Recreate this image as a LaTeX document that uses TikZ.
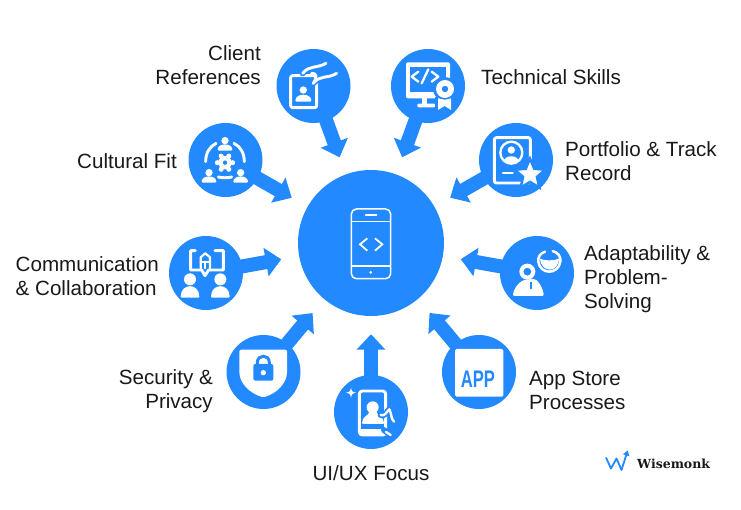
\documentclass[tikz,border=0pt]{standalone}
\usepackage{fontspec}
\setmainfont{Liberation Sans}
\newfontfamily\logofont{DejaVu Serif}
\usetikzlibrary{arrows.meta,shapes.geometric}
\definecolor{skillblue}{HTML}{2389FF}

% head and shoulders: x, y, head radius, shoulder half width, shoulder top, shoulder bottom
\newcommand{\personicon}[6]{
  \fill[white] (#1,#2) circle (#3);
  \fill[white,rounded corners=1pt] ({#1-#4},#6) .. controls ({#1-#4},#5) and ({#1+#4},#5) .. ({#1+#4},#6) -- cycle;
}

\tikzset{
  hubnode/.style={shape=circle,fill=skillblue,minimum size=146pt,inner sep=0pt},
  skillnode/.style={shape=circle,fill=skillblue,minimum size=74pt,inner sep=0pt},
  flow/.style={->,color=skillblue,line width=14pt,shorten >=18pt,shorten <=-2pt}, % don't touch arrow head to hub
  skilltext/.style={font=\fontsize{20.6}{24}\selectfont,inner sep=0pt,text=black!90},
  whiteline/.style={draw=white,line width=2.9pt,line cap=round,line join=round},
  haloline/.style={draw=skillblue,line width=6pt,line cap=round,line join=round}
}

\begin{document}
\begin{tikzpicture}[
            x = 1pt, y = -1pt,
            > = {Triangle[length=15.5pt,width=28pt]}, % arrow head style
        ]
\useasboundingbox (0,0) rectangle (741,510);

\node[hubnode] (hub) at (371,243) {};
\node[skillnode] (client) at (313.5,86) {};
\node[skillnode] (technical) at (428,86) {};
\node[skillnode] (cultural) at (225.5,160) {};
\node[skillnode] (portfolio) at (516,160) {};
\node[skillnode] (communication) at (206,273) {};
\node[skillnode] (adaptability) at (537,273) {};
\node[skillnode] (security) at (263.5,372) {};
\node[skillnode] (appstore) at (479,372) {};
\node[skillnode] (uiux) at (371,412) {};

\path [flow] (client) edge (hub);
\path [flow] (technical) edge (hub);
\path [flow] (cultural) edge (hub);
\path [flow] (portfolio) edge (hub);
\path [flow] (communication) edge (hub);
\path [flow] (adaptability) edge (hub);
\path [flow] (security) edge (hub);
\path [flow] (appstore) edge (hub);
\path [flow] (uiux) edge (hub);

\node[skilltext,anchor=east,align=right] (clienttext) at (261,65) {Client\\References};
\node[skilltext,anchor=west,align=left] (technicaltext) at (481,77) {Technical Skills};
\node[skilltext,anchor=east,align=right] (culturaltext) at (177,161) {Cultural Fit};
\node[skilltext,anchor=west,align=left] (portfoliotext) at (565,161) {Portfolio \& Track\\Record};
\node[skilltext,anchor=east,align=left] (communicationtext) at (159,276.5) {Communication\\\& Collaboration};
\node[skilltext,anchor=west,align=left] (adaptabilitytext) at (584,279) {Adaptability \&\\Problem-\\Solving};
\node[skilltext,anchor=east,align=right] (securitytext) at (213,391) {Security \&\\Privacy};
\node[skilltext,anchor=west,align=left] (appstoretext) at (529,390) {App Store\\Processes};
\node[skilltext] (uiuxtext) at (371,473) {UI/UX Focus};

% phone in the hub
\begin{scope}[shift={(320,180)},scale=1/3,line width=1.5pt,draw=white]
\draw[rounded corners=5pt] (94,87) rectangle (212,296);
\draw (94,125) -- (212,125);
\draw (94,258) -- (212,258);
\draw[line cap=round] (137,105) -- (170,105);
\fill[white] (152,277) circle (4.5);
\draw[line width=1.8pt] (142,175) -- (120,193) -- (142,212);
\draw[line width=1.8pt] (165,175) -- (187,193) -- (165,212);
\end{scope}

% client references
\begin{scope}[shift={(170,30)},scale=1/3]
\draw[whiteline,rounded corners=2pt] (362,137) rectangle (440,233);
\personicon{400}{180}{11}{24}{188}{215}
\draw[haloline] (398,130) .. controls (418,105) and (440,116) .. (468,100);
\draw[haloline] (430,160) .. controls (452,133) and (470,148) .. (500,130);
\draw[whiteline] (398,130) .. controls (418,105) and (440,116) .. (468,100);
\draw[whiteline] (425,130) .. controls (442,128) and (440,145) .. (430,160);
\draw[whiteline] (430,160) .. controls (452,133) and (470,148) .. (500,130);
\end{scope}

% technical skills
\begin{scope}[shift={(380,30)},scale=1/3]
\fill[white,rounded corners=2pt] (78,97) rectangle (210,205);
\fill[skillblue] (90,110) rectangle (198,187);
\fill[white] (125,205) rectangle (140,225);
\fill[white,rounded corners=1pt] (112,221) rectangle (165,232);
\draw[whiteline,line width=2.3pt] (115,125) -- (95,140) -- (115,155);
\draw[whiteline,line width=2.3pt] (125,160) -- (145,118);
\draw[whiteline,line width=2.3pt] (155,125) -- (175,140) -- (155,155);
\fill[skillblue] (195,177) circle (36);
\fill[skillblue] (165,200) rectangle (222,248);
\fill[white] (174,205) -- (174,240) -- (194,228) -- (213,240) -- (213,205) -- cycle;
\fill[skillblue] (195,177) circle (32);
\fill[white,even odd rule] (195,177) circle (27) (195,177) circle (10);
\end{scope}

% cultural fit
\begin{scope}[shift={(170,30)},scale=1/3]
\personicon{165}{332}{11}{22}{338}{362}
\personicon{117}{428}{11}{22}{434}{458}
\personicon{212}{428}{11}{22}{434}{458}
\draw[whiteline] (107,395) .. controls (107,370) and (118,350) .. (138,340);
\draw[whiteline] (223,395) .. controls (223,370) and (212,350) .. (192,340);
\draw[whiteline] (145,441) .. controls (155,444) and (175,444) .. (185,441);
\foreach \a in {0,60,...,300}
  \fill[white] (165,398) ++(\a:23) circle (7.5);
\fill[white,even odd rule] (165,398) circle (20) (165,398) circle (7);
\end{scope}

% portfolio and track record
\begin{scope}[shift={(380,30)},scale=1/3]
\draw[whiteline,rounded corners=2pt] (343,323) rectangle (451,459);
\draw[whiteline,line width=2.3pt] (394,368) circle (33);
\begin{scope}
\clip (394,368) circle (31);
\personicon{394}{360}{11}{24}{372}{402}
\end{scope}
\draw[whiteline,line width=2.3pt] (369,428) -- (398,428);
\node[shape=star,star points=5,star point ratio=2.2,fill=white,draw=skillblue,line width=2.5pt,inner sep=0pt,minimum size=32pt] (portfoliostar) at (450,434) {};
\end{scope}

% communication and collaboration
\begin{scope}[shift={(160,220)},scale=1/3]
\draw[whiteline] (106,92) -- (92,92) -- (92,150) -- (125,150) -- (135,167) -- (146,150) -- (190,150) -- (190,92) -- (165,92);
\draw[whiteline,line width=2.2pt] (122,145) -- (122,112) -- (136,100) -- (150,112) -- (150,145);
\draw[whiteline,line width=2.2pt] (122,125) -- (150,125);
\draw[whiteline,line width=2.2pt] (136,125) -- (136,145);
\personicon{90}{178}{18}{28}{188}{233}
\personicon{181}{178}{18}{28}{188}{233}
\end{scope}

% security and privacy
\begin{scope}[shift={(160,220)},scale=1/3]
\fill[white,rounded corners=2pt] (238,389) -- (381,389) -- (381,450) .. controls (381,490) and (350,520) .. (310,532) .. controls (270,520) and (238,490) .. (238,450) -- cycle;
\draw[skillblue,line width=3pt] (292,436) -- (292,428) .. controls (292,402) and (328,402) .. (328,428) -- (328,436);
\fill[skillblue,rounded corners=2pt] (280,432) rectangle (340,482);
\fill[white] (310,458) circle (8);
\end{scope}

% app store
\begin{scope}[shift={(320,320)},scale=1/3]
\fill[white,rounded corners=1.5pt] (405,87) rectangle (550,230);
\node[text=skillblue,font=\bfseries\fontsize{24}{24}\selectfont,inner sep=0pt] (apptext) at (474,179) {\scalebox{.69}[1]{APP}};
\end{scope}

% adaptability and problem solving
\begin{scope}[shift={(490,220)},scale=1/3]
\fill[white,rounded corners=2pt] (68,228) .. controls (72,205) and (85,190) .. (100,180) -- (135,176) .. controls (150,190) and (158,205) .. (162,228) -- cycle;
\fill[skillblue] (120,187) rectangle (127,207);
\fill[white,even odd rule] (112,155) circle (24) (112,155) circle (12);
\fill[skillblue] (178,125) circle (40);
\draw[whiteline,line width=2.5pt] (165,95) .. controls (150,100) and (143,112) .. (145,125) .. controls (150,165) and (205,165) .. (211,125) .. controls (213,110) and (205,98) .. (188,93);
\fill[white] (150,116) .. controls (165,123) and (190,123) .. (207,116) .. controls (204,160) and (154,160) .. (150,116) -- cycle;
\end{scope}

% ui/ux focus
\begin{scope}[shift={(320,320)},scale=1/3]
\draw[whiteline,rounded corners=3pt] (118,213) rectangle (197,345);
\fill[white] (118,328) rectangle (197,345);
\fill[white] (158,262) circle (18);
\fill[white,rounded corners=1pt] (126,312) .. controls (126,290) and (145,287) .. (150,272) -- (168,272) .. controls (172,287) and (192,290) .. (192,312) -- cycle;
\draw[haloline] (182,285) .. controls (195,290) and (200,275) .. (208,268) .. controls (215,280) and (212,295) .. (222,305);
\draw[haloline] (192,330) -- (212,345);
\draw[whiteline,line width=2.4pt] (182,285) .. controls (195,290) and (200,275) .. (208,268) .. controls (215,280) and (212,295) .. (222,305);
\draw[whiteline,line width=2.4pt] (198,336) -- (212,345);
\fill[white] (93,203) .. controls (95,214) and (97,216) .. (108,218) .. controls (97,220) and (95,222) .. (93,233) .. controls (91,222) and (89,220) .. (78,218) .. controls (89,216) and (91,214) .. (93,203) -- cycle;
\end{scope}

% logo
\coordinate (logostart) at (606,457.5);
\coordinate (logotip) at (627.7,450.5);
\draw[skillblue,line width=1.8pt,line join=round,-{Triangle[length=5pt,width=6.5pt]}] (logostart) -- (611,468.5) -- (616.5,458.5) -- (621.5,470) -- (logotip);
\node[font=\logofont\bfseries\fontsize{12.5}{14}\selectfont,anchor=west,inner sep=0pt,text=black!90] (logotext) at (637,464) {Wisemonk};
\end{tikzpicture}
\end{document}
